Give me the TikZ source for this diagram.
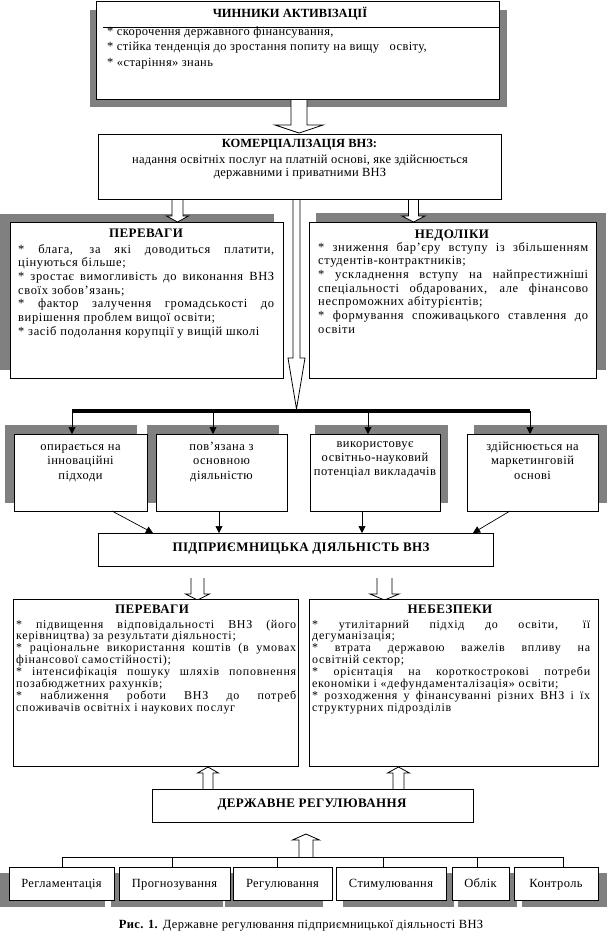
\documentclass[tikz,border=0pt]{standalone}
\usepackage{fontspec}
\setmainfont{Liberation Serif}
\newfontfamily\fsA[LetterSpace=5]{Liberation Serif}
\newfontfamily\fsB[LetterSpace=6]{Liberation Serif}
\newfontfamily\fsC[LetterSpace=3]{Liberation Serif}
\newfontfamily\fsD[LetterSpace=4]{Liberation Serif}
\newfontfamily\fsE[LetterSpace=2]{Liberation Serif}
\usetikzlibrary{arrows.meta,calc}
\definecolor{shd}{RGB}{128,128,128}
\newcommand\blkarrow[6]{\draw[blk] (#1-#5,#2) -- (#1-#5,#3) -- (#1-#6,#3) -- (#1,#4) -- (#1+#6,#3) -- (#1+#5,#3) -- (#1+#5,#2);}
\newcommand\bx[5]{\node[box, minimum width={#4pt-#2pt}, minimum height={#5pt-#3pt}] (#1) at ({(#2+#4)/2},{(#3+#5)/2}) {};}
\newcommand\shadow[4]{\fill[shd] (#1,#2) rectangle (#3,#4);}
\newcommand\nobrk{\tolerance=10000\hyphenpenalty=10000\exhyphenpenalty=10000\relax}
\newcommand\bodyA{\fsA\fontsize{12.5}{13.7}\selectfont\nobrk}
\newcommand\bodyB{\fsB\fontsize{12}{11.9}\selectfont\nobrk}
\begin{document}
\begin{tikzpicture}[x=1pt,y=-1pt,
  box/.style={draw=black, line width=0.9pt, fill=white, inner sep=0pt, outer sep=0pt},
  blk/.style={draw=black, line width=0.8pt, fill=white, line join=miter},
  con/.style={draw=black, line width=0.7pt, -{Triangle[length=7pt,width=7pt]}},
  lnk/.style={draw=black, line width=0.8pt},
  ttl/.style={font=\fsC\fontsize{13}{14}\selectfont\bfseries, inner sep=0pt, anchor=base},
  ttlb/.style={font=\fontsize{12.5}{14}\selectfont\bfseries, inner sep=0pt, anchor=base},
  lbl/.style={font=\fsC\fontsize{12.5}{14}\selectfont, inner sep=0pt, anchor=base},
  txt/.style={inner sep=0pt, anchor=base west},
]
\useasboundingbox (0,0) rectangle (608,943);
\fill[white] (0,0) rectangle (608,943);

% shadows
\shadow{90}{10}{507}{107}
\shadow{0}{214}{274}{370}
\shadow{316}{213}{606}{370}
\shadow{5}{425}{137}{503}
\shadow{147}{425}{279}{503}
\shadow{315}{425}{448}{503}
\shadow{474}{425}{607}{503}
\shadow{0}{873}{105}{907}
\shadow{111}{873}{223}{907}
\shadow{225}{873}{323}{907}
\shadow{343}{873}{454}{907}
\shadow{458}{873}{517}{907}
\shadow{522}{873}{607}{907}

% block arrows
\blkarrow{299}{99}{125}{133}{8}{24}
\blkarrow{177.5}{199}{216}{222}{5.5}{11}
\blkarrow{413.5}{199}{216}{222}{5}{11.5}
\blkarrow{296.5}{199}{358}{409}{3.5}{8.5}
\blkarrow{197.5}{578}{594}{600}{6.5}{12}
\blkarrow{384.5}{578}{594}{600}{7.5}{14.5}
\blkarrow{208}{789}{773}{767}{5}{10.5}
\blkarrow{398.5}{789}{773}{767}{5.5}{11}
\blkarrow{306}{857}{840}{834}{7}{13.5}

% boxes
\bx{top}{96}{1}{499}{99}
\bx{kom}{98}{134}{501}{199}
\bx{per1}{10}{222}{283}{378}
\bx{ned}{309}{222}{596}{378}
\bx{b1}{14}{434}{147}{511}
\bx{b2}{156}{434}{287}{511}
\bx{b3}{310}{434}{440}{511}
\bx{b4}{467}{434}{598}{511}
\bx{pid}{98}{533}{493}{566}
\bx{per2}{13}{599}{298}{766}
\bx{neb}{309}{599}{598}{766}
\bx{der}{152}{789}{473}{822}
\bx{r1}{9}{867}{114}{900}
\bx{r2}{119}{867}{230}{900}
\bx{r3}{233}{867}{332}{900}
\bx{r4}{336}{867}{446}{900}
\bx{r5}{452}{867}{509}{900}
\bx{r6}{514}{867}{598}{900}

% bar and connectors
\coordinate (j1) at (72,411);
\coordinate (j2) at (213,411);
\coordinate (j3) at (368,411);
\coordinate (j4) at (530,411);
\draw[line width=4pt] (j1) -- (j4);
\draw[con] (j1) -- (j1 |- b1.north);
\draw[con] (j2) -- (j2 |- b2.north);
\draw[con] (j3) -- (j3 |- b3.north);
\draw[con] (j4) -- (j4 |- b4.north);
\draw[con] ($(b1.south west)+(98,0)$) -- ($(pid.north west)+(55,0)$);
\draw[con] ($(b2.south west)+(63,0)$) -- ($(pid.north west)+(121,0)$);
\draw[con] ($(b3.south west)+(52,0)$) -- ($(pid.north west)+(264,0)$);
\draw[con] ($(b4.south west)+(43,0)$) -- ($(pid.north west)+(375,0)$);

% bottom tree
\coordinate (k1) at (62,857);
\coordinate (k2) at (172,857);
\coordinate (k3) at (277,857);
\coordinate (k4) at (383,857);
\coordinate (k5) at (477,857);
\coordinate (k6) at (563,857);
\draw[lnk] (k1) -- (k6);
\draw[lnk] (k1) -- (k1 |- r1.north);
\draw[lnk] (k2) -- (k2 |- r2.north);
\draw[lnk] (k3) -- (k3 |- r3.north);
\draw[lnk] (k4) -- (k4 |- r4.north);
\draw[lnk] (k5) -- (k5 |- r5.north);
\draw[lnk] (k6) -- (k6 |- r6.north);

% top box text
\node[ttlb] (topT) at (290,17) {ЧИННИКИ АКТИВІЗАЦІЇ};
\draw[lnk] ($(top.north west)+(7,26)$) -- ($(top.north east)+(0,26)$);
\node[txt] (topB) at (107,35) {\parbox[t]{385pt}{\fsC\fontsize{12.5}{15.5}\selectfont * скорочення державного фінансування,\newline * стійка тенденція до зростання попиту на вищу\ \ \ освіту,\newline * «старіння» знань}};

% commercialisation
\node[ttlb] (komT) at (299.5,147) {КОМЕРЦІАЛІЗАЦІЯ ВНЗ:};
\node[lbl] (komB) at (300,163) {\parbox[t]{400pt}{\centering\fsE\fontsize{12.5}{13}\selectfont надання освітніх послуг на платній основі, яке здійснюється\\державними і приватними ВНЗ}};

% advantages 1
\node[ttl] (per1T) at (146,237) {ПЕРЕВАГИ};
\node[txt] (per1B) at (18,253) {\parbox[t]{256pt}{\bodyA * блага, за які доводиться платити,\linebreak цінуються більше;\newline * зростає вимогливість до виконання ВНЗ\linebreak своїх зобов’язань;\newline * фактор залучення громадськості до\linebreak вирішення проблем вищої освіти;\newline * засіб подолання корупції у вищій школі}};

% drawbacks
\node[ttl] (nedT) at (452,238) {НЕДОЛІКИ};
\node[txt] (nedB) at (318,251) {\parbox[t]{270pt}{\bodyA * зниження бар’єру вступу із збільшенням\linebreak студентів-контрактників;\newline * ускладнення вступу на найпрестижніші\linebreak спеціальності обдарованих, але фінансово\linebreak неспроможних абітурієнтів;\newline * формування споживацького ставлення до\linebreak освіти}};

% four boxes
\node[lbl] (b1T) at ($(b1.north)+(0,16)$) {\parbox[t]{130pt}{\centering\fsD\fontsize{12.5}{14.5}\selectfont опирається на\\інноваційні\\підходи}};
\node[lbl] (b2T) at ($(b2.north)+(0,16)$) {\parbox[t]{130pt}{\centering\fsD\fontsize{12.5}{14.5}\selectfont пов’язана з\\основною\\діяльністю}};
\node[lbl] (b3T) at ($(b3.north)+(0,13)$) {\parbox[t]{130pt}{\centering\fsD\fontsize{12.5}{14}\selectfont використовує\\освітньо-науковий\\потенціал викладачів}};
\node[lbl] (b4T) at ($(b4.north)+(0,16)$) {\parbox[t]{130pt}{\centering\fsD\fontsize{12.5}{14.5}\selectfont здійснюється на\\маркетинговій\\основі}};

% entrepreneurial activity
\node[ttl] (pidT) at (301,551) {ПІДПРИЄМНИЦЬКА ДІЯЛЬНІСТЬ ВНЗ};

% advantages 2
\node[ttl] (per2T) at (152,613) {ПЕРЕВАГИ};
\node[txt] (per2B) at (16,628) {\parbox[t]{280pt}{\bodyB * підвищення відповідальності ВНЗ (його\linebreak керівництва) за результати діяльності;\newline * раціональне використання коштів (в умовах\linebreak фінансової самостійності);\newline * інтенсифікація пошуку шляхів поповнення\linebreak позабюджетних рахунків;\newline * наближення роботи ВНЗ до потреб\linebreak споживачів освітніх і наукових послуг}};

% dangers
\node[ttl] (nebT) at (450,613) {НЕБЕЗПЕКИ};
\node[txt] (nebB) at (312,628) {\parbox[t]{278pt}{\bodyB * утилітарний підхід до освіти, її\linebreak дегуманізація;\newline * втрата державою важелів впливу на\linebreak освітній сектор;\newline * орієнтація на короткострокові потреби\linebreak економіки і «дефундаменталізація» освіти;\newline * розходження у фінансуванні різних ВНЗ і їх\linebreak структурних підрозділів}};

% state regulation
\node[ttl] (derT) at (312,807) {ДЕРЖАВНЕ РЕГУЛЮВАННЯ};

\node[lbl] (r1T) at ($(r1.center)+(0,4)$) {Регламентація};
\node[lbl] (r2T) at ($(r2.center)+(0,4)$) {Прогнозування};
\node[lbl] (r3T) at ($(r3.center)+(0,4)$) {Регулювання};
\node[lbl] (r4T) at ($(r4.center)+(0,4)$) {Стимулювання};
\node[lbl] (r5T) at ($(r5.center)+(0,4)$) {Облік};
\node[lbl] (r6T) at ($(r6.center)+(0,4)$) {Контроль};

\node[lbl] (cap) at (301,928) {\textbf{Рис. 1.} Державне регулювання підприємницької діяльності ВНЗ};
\end{tikzpicture}
\end{document}
